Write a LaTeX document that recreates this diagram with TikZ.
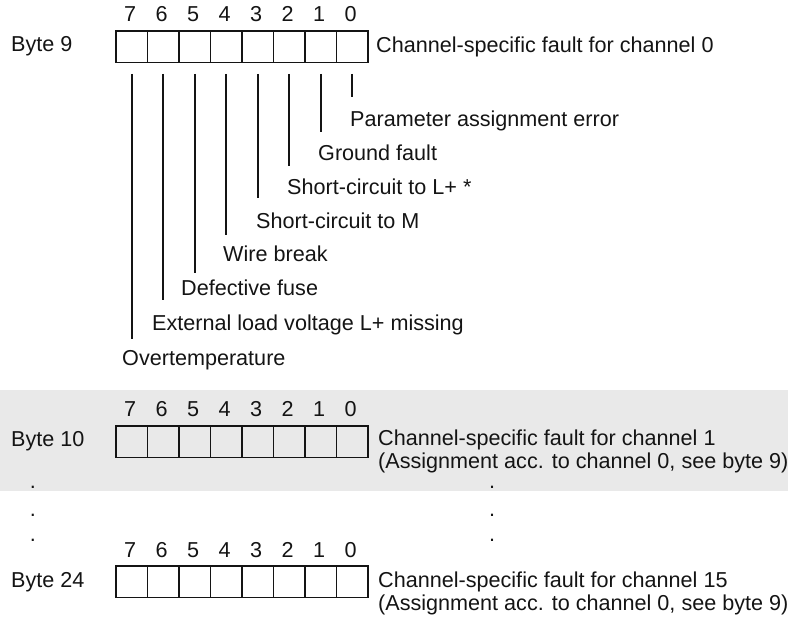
\documentclass[tikz,border=0pt]{standalone}
\usepackage{fontspec}
\setmainfont{Liberation Sans}
\definecolor{bandgray}{HTML}{E9E9E9}
\definecolor{ink}{HTML}{141414}
\begin{document}
\begin{tikzpicture}[x=1pt,y=-1pt,
  cell/.style={draw=ink,line width=1.6pt,minimum width=31.5pt,minimum height=31.5pt,inner sep=0pt,outer sep=0pt},
  bitnum/.style={text=ink,inner sep=0pt,anchor=base,font=\fontsize{21.6}{23}\selectfont},
  lbl/.style={text=ink,inner sep=0pt,anchor=base west,font=\fontsize{21.6}{23}\selectfont},
  lead/.style={draw=ink,line width=1.6pt}]
\useasboundingbox (0,0) rectangle (788,620);
\fill[bandgray] (0,390) rectangle (788,491);
% byte registers
\foreach \b/\y in {9/31,10/426,24/566}{
  \foreach \i in {0,...,7}{
    \node[cell] (b\b c\i) at ({116+31.5*(7-\i)+15.75},{\y+15.75}) {};
    \node[bitnum] (n\b c\i) at ({116+31.5*(7-\i)+14.25},{\y-9}) {\i};
  }
}
% left labels
\node[lbl] (l9) at (11,51.5) {Byte 9};
\node[lbl] (l10) at (11,447) {Byte 10};
\node[lbl] (l24) at (11,587) {Byte 24};
% right descriptions
\node[lbl] (d9) at (376,53) {Channel-specific fault for channel 0};
\node[lbl] (d10a) at (378,446) {Channel-specific fault for channel 1};
\node[lbl] (d10b) at (378,469) {(Assignment acc. to channel 0, see byte 9)};
\node[lbl] (d24a) at (378,587) {Channel-specific fault for channel 15};
\node[lbl] (d24b) at (378,610) {(Assignment acc. to channel 0, see byte 9)};
% dots
\foreach \k/\yy in {1/489,2/516,3/541}{
  \node[lbl,anchor=base] (dl\k) at (33,\yy) {.};
  \node[lbl,anchor=base] (dr\k) at (492,\yy) {.};
}
% fault labels
\node[lbl] (f0) at (350,126.5) {Parameter assignment error};
\node[lbl] (f1) at (318,160.5) {Ground fault};
\node[lbl] (f2) at (287,194.5) {Short-circuit to L+ *};
\node[lbl] (f3) at (256,228.5) {Short-circuit to M};
\node[lbl] (f4) at (223,261.5) {Wire break};
\node[lbl] (f5) at (181,295.5) {Defective fuse};
\node[lbl] (f6) at (152,330.5) {External load voltage L+ missing};
\node[lbl] (f7) at (122,365.5) {Overtemperature};
% leader lines
\foreach \i/\e in {0/97,1/132,2/166,3/198,4/235,5/273,6/300,7/339}{
  \coordinate (s\i) at ([yshift=-11.5pt]b9c\i.south);
  \coordinate (e\i) at (s\i |- 0,\e);
  \draw[lead] (s\i) -- (e\i);
}
\end{tikzpicture}
\end{document}
